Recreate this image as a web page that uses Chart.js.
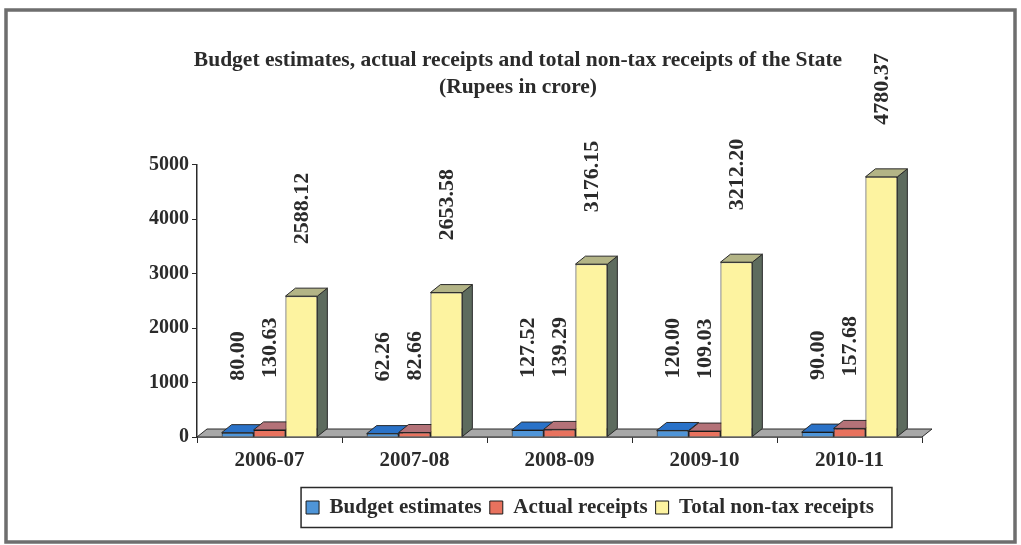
<!DOCTYPE html>
<html>
<head>
<meta charset="utf-8">
<script src="https://cdn.jsdelivr.net/npm/chart.js@4.4.1/dist/chart.umd.min.js"></script>
<style>
  html, body { margin: 0; padding: 0; background: #ffffff; }
  #wrap { width: 1021px; height: 545px; }
</style>
</head>
<body>
<div id="wrap"><canvas id="c" width="1021" height="545"></canvas></div>
<script>
const categories = ['2006-07', '2007-08', '2008-09', '2009-10', '2010-11'];
const budgetEstimates = [80.00, 62.26, 127.52, 120.00, 90.00];
const actualReceipts = [130.63, 82.66, 139.29, 109.03, 157.68];
const totalNonTaxReceipts = [2588.12, 2653.58, 3176.15, 3212.20, 4780.37];
const seriesNames = ['Budget estimates', 'Actual receipts', 'Total non-tax receipts'];
const titleLines = ['Budget estimates, actual receipts and total non-tax receipts of the State', '(Rupees in crore)'];
const yMin = 0, yMax = 5000, yStep = 1000;

const SERIF = "'Liberation Serif', 'Times New Roman', serif";
const DX = 10, DY = 8;
const LABEL_GAP = 52;
const LEGEND_CENTER_X = 590;
const TITLE_CENTER_X = 518;
const faces = [
  { front: '#4f95d8', top: '#2a72c8', side: '#1d4f8c' },
  { front: '#e8725e', top: '#b47278', side: '#7e4444' },
  { front: '#fdf3a0', top: '#b3b486', side: '#5d6b5e' }
];

function poly(ctx, pts, fill) {
  ctx.beginPath();
  ctx.moveTo(pts[0][0], pts[0][1]);
  for (let i = 1; i < pts.length; i++) ctx.lineTo(pts[i][0], pts[i][1]);
  ctx.closePath();
  ctx.fillStyle = fill;
  ctx.fill();
  ctx.stroke();
}

const framePlugin = {
  id: 'frame',
  afterLayout(chart) {
    const lg = chart.legend;
    if (lg) {
      const shift = LEGEND_CENTER_X - (lg.left + lg.right) / 2;
      lg.left += shift;
      lg.right += shift;
    }
    const tb = chart.titleBlock;
    if (tb) {
      const s2 = TITLE_CENTER_X - (tb.left + tb.right) / 2;
      tb.left += s2;
      tb.right += s2;
    }
  },
  beforeDraw(chart) {
    const ctx = chart.ctx;
    ctx.save();
    ctx.fillStyle = '#ffffff';
    ctx.fillRect(0, 0, chart.width, chart.height);
    ctx.strokeStyle = '#6e6e6e';
    ctx.lineWidth = 3.5;
    ctx.strokeRect(6, 10, 1009, 532);
    ctx.restore();
  },
  afterDraw(chart) {
    const lg = chart.legend;
    if (!lg || !lg.legendHitBoxes || !lg.legendHitBoxes.length) return;
    const hb = lg.legendHitBoxes;
    const l = hb[0].left - 5;
    const r = hb[hb.length - 1].left + hb[hb.length - 1].width + 18;
    const cy = hb[0].top + hb[0].height / 2;
    const ctx = chart.ctx;
    ctx.save();
    ctx.strokeStyle = '#2a2a2a';
    ctx.lineWidth = 1.5;
    ctx.strokeRect(l, cy - 20, r - l, 40);
    ctx.restore();
  }
};

const threeDPlugin = {
  id: 'threeD',
  beforeDatasetsDraw(chart) {
    const ctx = chart.ctx;
    const a = chart.chartArea;
    ctx.save();
    ctx.strokeStyle = '#2a2a2a';
    ctx.lineWidth = 1;
    poly(ctx, [[a.left, a.bottom], [a.right, a.bottom], [a.right + DX, a.bottom - DY], [a.left + DX, a.bottom - DY]], '#a8a8a8');
    const bars = [];
    chart.data.datasets.forEach((ds, i) => {
      const meta = chart.getDatasetMeta(i);
      meta.data.forEach(el => bars.push({ el, i }));
    });
    bars.sort((p, q) => (p.el.x - p.el.width / 2) - (q.el.x - q.el.width / 2));
    bars.forEach(({ el, i }) => {
      const l = el.x - el.width / 2, r = el.x + el.width / 2, y = el.y, b = el.base;
      poly(ctx, [[r, y], [r + DX, y - DY], [r + DX, b - DY], [r, b]], faces[i].side);
      poly(ctx, [[l, y], [l + DX, y - DY], [r + DX, y - DY], [r, y]], faces[i].top);
    });
    ctx.restore();
  },
  afterDatasetsDraw(chart) {
    const ctx = chart.ctx;
    ctx.save();
    ctx.fillStyle = '#2b2b2b';
    ctx.font = 'bold 22px ' + SERIF;
    ctx.textAlign = 'left';
    ctx.textBaseline = 'middle';
    chart.data.datasets.forEach((ds, i) => {
      const meta = chart.getDatasetMeta(i);
      meta.data.forEach((el, j) => {
        ctx.save();
        ctx.translate(el.x, el.y - LABEL_GAP);
        ctx.rotate(-Math.PI / 2);
        ctx.fillText(ds.data[j].toFixed(2), 0, 1);
        ctx.restore();
      });
    });
    ctx.restore();
  }
};

const seriesData = [budgetEstimates, actualReceipts, totalNonTaxReceipts];

new Chart(document.getElementById('c'), {
  type: 'bar',
  data: {
    labels: categories,
    datasets: seriesData.map((d, i) => ({
      label: seriesNames[i],
      data: d,
      backgroundColor: faces[i].front,
      borderColor: '#1a1a1a',
      borderWidth: 1,
      categoryPercentage: 0.66,
      barPercentage: 1.0
    }))
  },
  options: {
    responsive: false,
    animation: false,
    devicePixelRatio: 1,
    layout: { padding: { left: 0, right: 99, top: 0, bottom: 17 } },
    plugins: {
      title: {
        display: true,
        text: titleLines,
        color: '#2b2b2b',
        font: { family: SERIF, size: 21.5, weight: 'bold', lineHeight: 1.3 },
        padding: { top: 46, bottom: 63 }
      },
      legend: {
        display: true,
        position: 'bottom',
        labels: {
          color: '#2b2b2b',
          font: { family: SERIF, size: 21, weight: 'bold' },
          boxWidth: 13,
          boxHeight: 13,
          padding: 8
        }
      },
      tooltip: { enabled: false }
    },
    scales: {
      x: {
        grid: { display: true, drawOnChartArea: false, drawTicks: true, tickLength: 6, color: '#2a2a2a', offset: true },
        border: { display: true, color: '#2a2a2a', width: 1.5 },
        ticks: { color: '#2b2b2b', font: { family: SERIF, size: 21, weight: 'bold' }, padding: 5 },
        afterFit(s) { s.height = 52; }
      },
      y: {
        min: yMin,
        max: yMax,
        grid: { display: true, drawOnChartArea: false, drawTicks: true, tickLength: 5, color: '#2a2a2a' },
        border: { display: true, color: '#2a2a2a', width: 1.5 },
        ticks: {
          stepSize: yStep,
          color: '#2b2b2b',
          font: { family: SERIF, size: 20, weight: 'bold' },
          padding: 3,
          callback: v => String(v)
        },
        afterFit(s) { s.width = 197; }
      }
    }
  },
  plugins: [framePlugin, threeDPlugin]
});
</script>
</body>
</html>
